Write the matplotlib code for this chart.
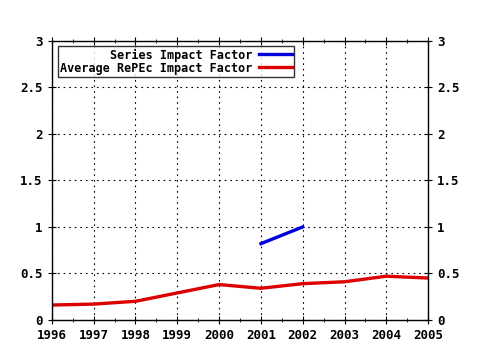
import numpy as np
import matplotlib.pyplot as plt
from matplotlib.ticker import MultipleLocator

years = [1996, 1997, 1998, 1999, 2000, 2001, 2002, 2003, 2004, 2005]
avg_repec = [0.16, 0.17, 0.20, 0.29, 0.38, 0.34, 0.39, 0.41, 0.47, 0.45]
series_years = [2001, 2002]
series_if = [0.82, 1.0]

plt.rcParams['font.family'] = 'DejaVu Sans Mono'
plt.rcParams['font.weight'] = 'bold'

fig = plt.figure(figsize=(4.8, 3.5), dpi=100)
ax = fig.add_axes([0.108, 0.086, 0.784, 0.797])

ax.plot(series_years, series_if, color='#0000dd', linewidth=2.4, label='Series Impact Factor')
ax.plot(years, avg_repec, color='#dd0000', linewidth=2.4, label='Average RePEc Impact Factor')

ax.set_xlim(1996, 2005)
ax.set_ylim(0, 3)
ax.set_xticks(years)
ax.xaxis.set_minor_locator(MultipleLocator(0.5))
ax.set_yticks([0, 0.5, 1, 1.5, 2, 2.5, 3])
ax.set_yticklabels(['0', '0.5', '1', '1.5', '2', '2.5', '3'])
ax.grid(True, color='black', linestyle=(0, (1.5, 3.5)), linewidth=0.8)
ax.tick_params(which='both', direction='inout', labelsize=9, top=True, right=True,
               labelright=True)
ax.tick_params(which='major', length=6)
ax.tick_params(which='minor', length=3)
for s in ax.spines.values():
    s.set_linewidth(1)

leg = ax.legend(loc='upper left', bbox_to_anchor=(0.01, 0.99), fontsize=8.5,
                markerfirst=False, frameon=True, fancybox=False, borderpad=0.2,
                labelspacing=0.0, handlelength=2.8, handletextpad=0.5,
                borderaxespad=0.2)
leg.get_frame().set_edgecolor('black')
leg.get_frame().set_linewidth(1)
for t in leg.get_texts():
    t.set_ha('right')
leg._legend_box.align = 'right'

fig.savefig('out.png', dpi=100)
